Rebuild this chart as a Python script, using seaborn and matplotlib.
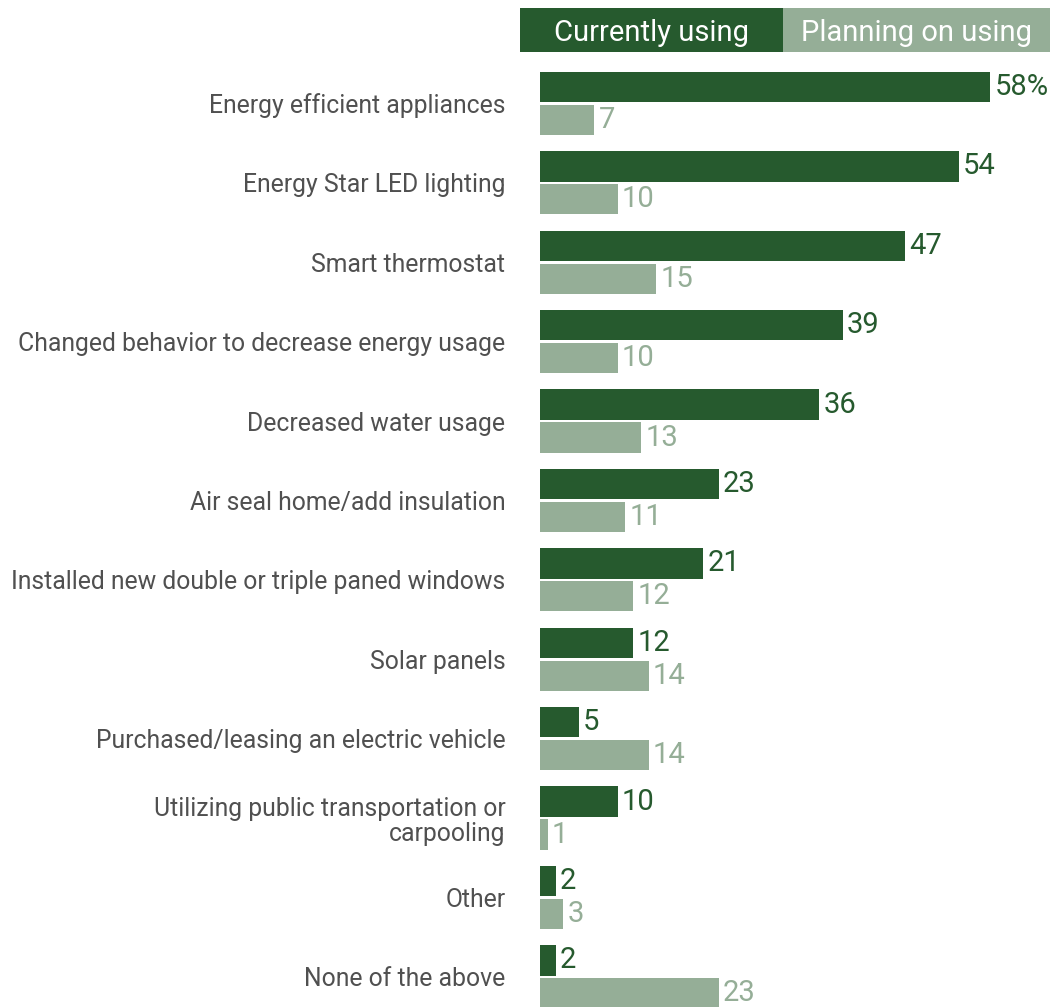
import matplotlib
matplotlib.use("Agg")
import matplotlib.pyplot as plt
import seaborn as sns
import pandas as pd
from matplotlib.patches import Rectangle

categories = [
    "Energy efficient appliances",
    "Energy Star LED lighting",
    "Smart thermostat",
    "Changed behavior to decrease energy usage",
    "Decreased water usage",
    "Air seal home/add insulation",
    "Installed new double or triple paned windows",
    "Solar panels",
    "Purchased/leasing an electric vehicle",
    "Utilizing public transportation or\ncarpooling",
    "Other",
    "None of the above",
]
currently_using = [58, 54, 47, 39, 36, 23, 21, 12, 5, 10, 2, 2]
planning_on_using = [7, 10, 15, 10, 13, 11, 12, 14, 14, 1, 3, 23]
series_names = ["Currently using", "Planning on using"]
colors = ["#265a2e", "#95ae97"]

df = pd.DataFrame({
    "category": categories * 2,
    "value": currently_using + planning_on_using,
    "series": [series_names[0]] * len(categories) + [series_names[1]] * len(categories),
})

sns.set_theme(style="white")
plt.rcParams["font.family"] = ["Roboto", "DejaVu Sans"]

fig = plt.figure(figsize=(10.56, 10.07), dpi=100)
ax = fig.add_axes([0.5114, -0.0095, 0.485, 0.9462])

sns.barplot(data=df, y="category", x="value", hue="series", order=categories,
            hue_order=series_names, palette=colors, width=0.83, gap=0.08,
            orient="h", ax=ax, legend=False, saturation=1, linewidth=0)

ax.set_xlim(0, 66)
ax.set_ylim(11.5, -0.5)
ax.set_xlabel("")
ax.set_ylabel("")
ax.set_xticks([])
for s in ax.spines.values():
    s.set_visible(False)
ax.tick_params(axis="y", length=0, pad=25, labelsize=17.8, labelcolor="#505050")
for t in ax.get_yticklabels():
    t.set_linespacing(1.05)

for ci, cont in enumerate(ax.containers):
    vals = currently_using if ci == 0 else planning_on_using
    labs = [str(v) for v in vals]
    if ci == 0:
        labs[0] = labs[0] + "%"
    ax.bar_label(cont, labels=labs, padding=3, fontsize=21, color=colors[ci],
                 clip_on=False)

# legend boxes
legend_boxes = [(0.4924, 0.2491), (0.7415, 0.2528)]
for (x0, w), name, c in zip(legend_boxes, series_names, colors):
    fig.patches.append(Rectangle((x0, 0.948), w, 0.0437, transform=fig.transFigure,
                                 facecolor=c, edgecolor="none"))
    fig.text(x0 + w / 2, 0.948 + 0.0437 / 2 - 0.003, name, ha="center", va="center",
             color="white", fontsize=21)

fig.savefig("out.png", dpi=100)
